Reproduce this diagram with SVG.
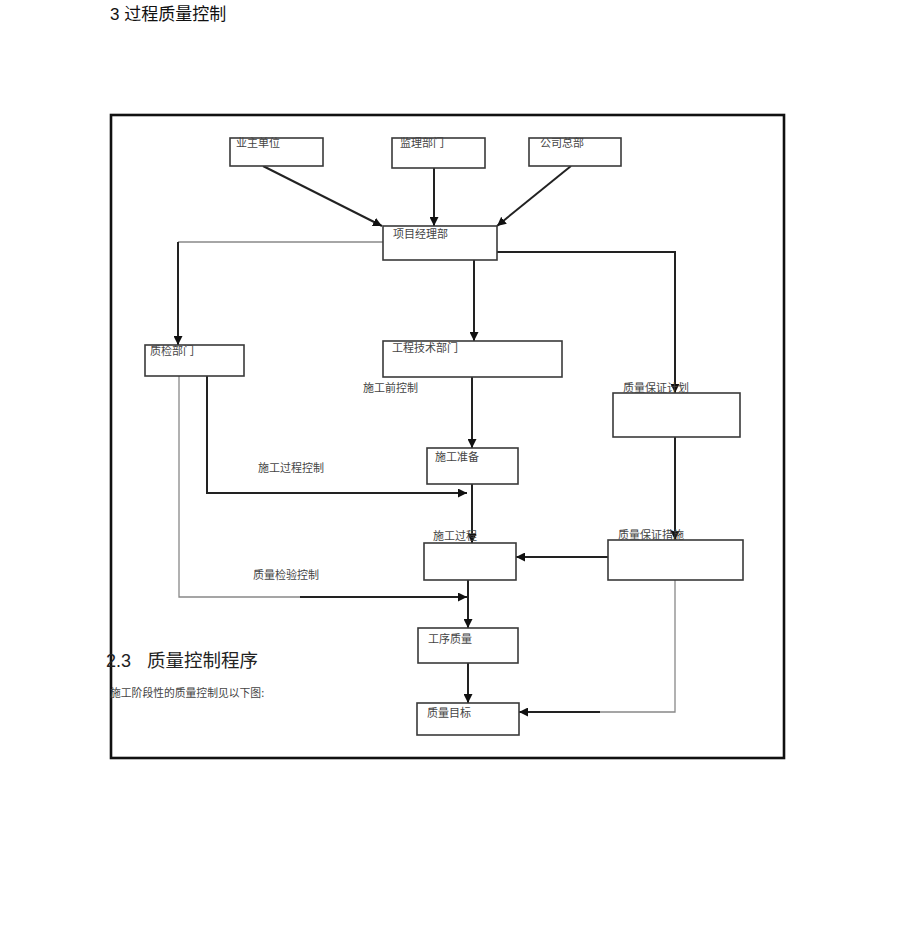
<svg xmlns="http://www.w3.org/2000/svg" width="920" height="945" viewBox="0 0 920 945">
<defs>
<marker id="ah" viewBox="0 0 10 10" refX="10" refY="5" markerWidth="9" markerHeight="9" markerUnits="userSpaceOnUse" orient="auto">
<path d="M0,0 L10,5 L0,10 z" fill="#111"/>
</marker>
</defs>
<style>
.box{fill:#fff;stroke:#3a3a3a;stroke-width:1.6}
.lbl{font-family:"Noto Sans CJK SC","Liberation Sans",sans-serif;font-size:11px;fill:#444}
.dk{fill:none;stroke:#222;stroke-width:2}
.gr{fill:none;stroke:#888;stroke-width:1.3}
</style>
<rect width="920" height="945" fill="#fff"/>
<text x="110" y="20" font-family="Liberation Sans,'Noto Sans CJK SC',sans-serif" font-size="17" fill="#111">3 过程质量控制</text>
<rect x="111" y="115" width="673" height="643" fill="none" stroke="#111" stroke-width="2.6"/>

<g id="connectors">
<line class="dk" x1="263" y1="166" x2="382" y2="226" marker-end="url(#ah)"/>
<line class="dk" x1="434" y1="168" x2="434" y2="226" marker-end="url(#ah)"/>
<line class="dk" x1="571" y1="166" x2="497" y2="226" marker-end="url(#ah)"/>
<line class="gr" x1="383" y1="242" x2="178" y2="242"/>
<line class="dk" x1="178" y1="242" x2="178" y2="345" marker-end="url(#ah)"/>
<line class="dk" x1="474" y1="260" x2="474" y2="341" marker-end="url(#ah)"/>
<polyline class="dk" points="497,252 675,252 675,393" marker-end="url(#ah)"/>
<line class="dk" x1="472" y1="377" x2="472" y2="448" marker-end="url(#ah)"/>
<line class="dk" x1="472" y1="484" x2="472" y2="543" marker-end="url(#ah)"/>
<polyline class="dk" points="207,376 207,493 467,493" marker-end="url(#ah)"/>
<polyline class="gr" points="179,376 179,597 300,597"/>
<line class="dk" x1="300" y1="597" x2="467" y2="597" marker-end="url(#ah)"/>
<line class="dk" x1="675" y1="437" x2="675" y2="540" marker-end="url(#ah)"/>
<line class="dk" x1="608" y1="557" x2="516" y2="557" marker-end="url(#ah)"/>
<line class="dk" x1="468" y1="580" x2="468" y2="628" marker-end="url(#ah)"/>
<line class="dk" x1="468" y1="663" x2="468" y2="703" marker-end="url(#ah)"/>
<polyline class="gr" points="675,580 675,712 600,712"/>
<line class="dk" x1="600" y1="712" x2="519" y2="712" marker-end="url(#ah)"/>
</g>

<g id="n-yezhu"><rect class="box" x="230" y="138" width="93" height="28"/><text class="lbl" x="236" y="147">业主单位</text></g>
<g id="n-jianli"><rect class="box" x="392" y="138" width="93" height="30"/><text class="lbl" x="400" y="147">监理部门</text></g>
<g id="n-gongsi"><rect class="box" x="529" y="138" width="92" height="28"/><text class="lbl" x="540" y="147">公司总部</text></g>
<g id="n-xiangmu"><rect class="box" x="383" y="226" width="114" height="34"/><text class="lbl" x="393" y="238">项目经理部</text></g>
<g id="n-zhijian"><rect class="box" x="145" y="345" width="99" height="31"/><text class="lbl" x="150" y="355">质检部门</text></g>
<g id="n-gongcheng"><rect class="box" x="383" y="341" width="179" height="36"/><text class="lbl" x="392" y="352">工程技术部门</text></g>
<g id="n-jihua"><rect class="box" x="613" y="393" width="127" height="44"/><text class="lbl" x="623" y="392">质量保证计划</text></g>
<g id="n-zhunbei"><rect class="box" x="427" y="448" width="91" height="36"/><text class="lbl" x="435" y="461">施工准备</text></g>
<g id="n-guocheng"><rect class="box" x="424" y="543" width="92" height="37"/><text class="lbl" x="433" y="540">施工过程</text></g>
<g id="n-cuoshi"><rect class="box" x="608" y="540" width="135" height="40"/><text class="lbl" x="618" y="539">质量保证措施</text></g>
<g id="n-gongxu"><rect class="box" x="418" y="628" width="100" height="35"/><text class="lbl" x="428" y="643">工序质量</text></g>
<g id="n-mubiao"><rect class="box" x="417" y="703" width="102" height="32"/><text class="lbl" x="427" y="717">质量目标</text></g>

<text class="lbl" x="363" y="392">施工前控制</text>
<text class="lbl" x="258" y="472">施工过程控制</text>
<text class="lbl" x="253" y="579">质量检验控制</text>

<text x="106" y="667" font-family="Liberation Sans,'Noto Sans CJK SC',sans-serif" font-size="18" fill="#222">2.3</text>
<text x="147" y="667" font-family="'Noto Sans CJK SC',sans-serif" font-size="18.5" fill="#222">质量控制程序</text>
<text x="110" y="697" font-family="'Noto Sans CJK SC',sans-serif" font-size="10.8" fill="#444">施工阶段性的质量控制见以下图:</text>
</svg>
